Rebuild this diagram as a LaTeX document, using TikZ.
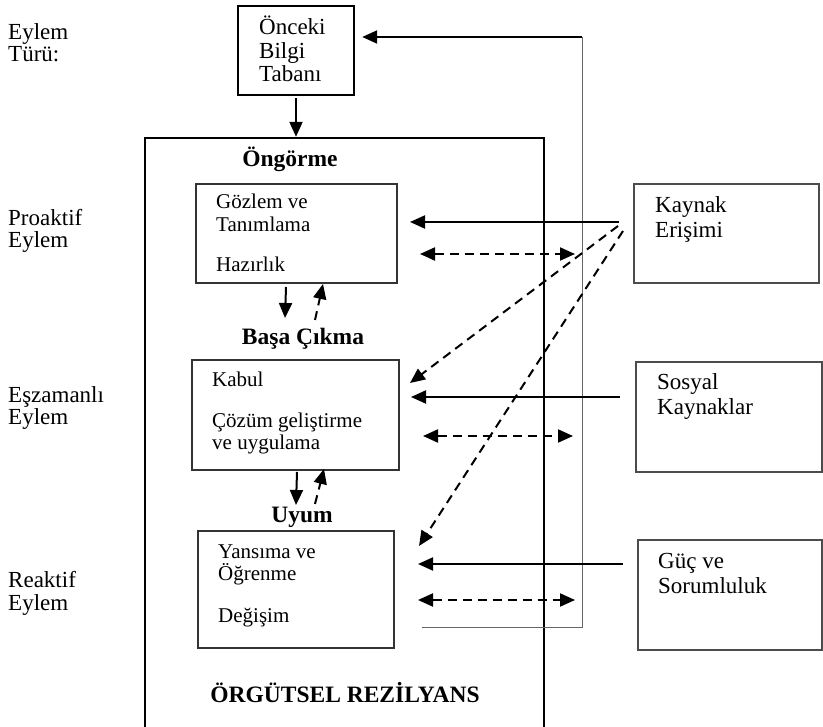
\documentclass[tikz,border=0pt]{standalone}
\usepackage{fontspec}
\setmainfont{Liberation Serif}
\usetikzlibrary{arrows.meta, positioning}

\tikzset{
	tip/.style={-{Triangle[length=15pt,width=13pt]}},
	bigbox/.style={draw=black, line width=2.4pt, inner sep=0pt},
	innerbox/.style={draw=black!80, line width=1.3pt, inner sep=0pt},
	sidebox/.style={draw=black!70, line width=1.3pt, inner sep=0pt},
	lbl/.style={font=\fontsize{23}{22.5}\selectfont, align=left, inner sep=0pt, anchor=base west},
	boxtxt/.style={font=\fontsize{21}{22.5}\selectfont, align=left, inner sep=0pt, anchor=base west},
	sidetxt/.style={font=\fontsize{23}{25}\selectfont, align=left, inner sep=0pt, anchor=base west},
	head/.style={font=\fontsize{23.5}{24}\selectfont\bfseries, inner sep=0pt, anchor=base},
	solidarrow/.style={tip, line width=2pt},
	dasharrow/.style={tip, line width=2pt, dash pattern=on 9pt off 6pt},
	dashboth/.style={{Triangle[length=15pt,width=13pt]}-{Triangle[length=15pt,width=13pt]}, line width=2pt, dash pattern=on 9pt off 6pt},
}

\begin{document}
\begin{tikzpicture}[x=1pt, y=-1pt]
	\useasboundingbox (0,0) rectangle (823,727);
	% Eylem turleri (son satirin tabani)
	\node[lbl] (tur) at (8,62) {Eylem\\Türü:};
	\node[lbl] (proaktif) at (8,248) {Proaktif\\Eylem};
	\node[lbl] (eszamanli) at (8,425) {Eşzamanlı\\Eylem};
	\node[lbl] (reaktif) at (8,610) {Reaktif\\Eylem};
	% kutular
	\node[bigbox, minimum width=116pt, minimum height=89pt] (onceki) at (296,50.5) {};
	\node[sidetxt, font=\fontsize{23}{23.5}\selectfont] (oncekitxt) at (259,82) {Önceki\\Bilgi\\Tabanı};
	\node[bigbox, minimum width=399pt, minimum height=591pt] (rez) at (344.5,433.5) {};
	\node[innerbox, minimum width=201pt, minimum height=99pt] (gozlem) at (296.5,233.5) {};
	\node[innerbox, minimum width=207pt, minimum height=110pt] (kabul) at (295.5,415) {};
	\node[innerbox, minimum width=196pt, minimum height=117pt] (yansima) at (296,589.5) {};
	\node[sidebox, minimum width=185pt, minimum height=99pt] (kaynak) at (726.5,233.5) {};
	\node[sidebox, minimum width=186pt, minimum height=110pt] (sosyal) at (729,417) {};
	\node[sidebox, minimum width=184pt, minimum height=110pt] (guc) at (730,595) {};
	% basliklar
	\node[head] (ongorme) at (290,167) {Öngörme};
	\node[head] (basa) at (303,345) {Başa Çıkma};
	\node[head] (uyum) at (302,523) {Uyum};
	\node[head] (rezilyans) at (345,702) {ÖRGÜTSEL REZİLYANS};
	% kutu metinleri
	\node[boxtxt] (gozlemtxt) at (216,272) {Gözlem ve\\Tanımlama\\[18pt]Hazırlık};
	\node[boxtxt] (kabultxt) at (212,450) {Kabul\\[18.5pt]Çözüm geliştirme\\ve uygulama};
	\node[boxtxt] (yansimatxt) at (218,622) {Yansıma ve\\Öğrenme\\[19pt]Değişim};
	\node[sidetxt] (kaynaktxt) at (655,238) {Kaynak\\Erişimi};
	\node[sidetxt] (sosyaltxt) at (657,415) {Sosyal\\Kaynaklar};
	\node[sidetxt] (guctxt) at (658,594) {Güç ve\\Sorumluluk};
	% geri besleme
	\coordinate (fb1) at (422,627);
	\coordinate (fb2) at (582,627);
	\coordinate (fb3) at (582,37);
	\draw[black!60, line width=1pt] (fb1) -- (fb2) -- (fb3);
	\draw[solidarrow] (fb3) -- ([xshift=7pt]onceki.east |- fb3);
	\draw[solidarrow] (onceki.south |- 0,98) -- (rez.north -| onceki.south);
	% asamalar arasi
	\draw[solidarrow] (286,287) -- (285,318);
	\draw[dasharrow] (315,320) -- (323,284);
	\draw[solidarrow] (297,472) -- (296,505);
	\draw[dasharrow] (315,504) -- (324,469);
	% kaynaklardan
	\coordinate (k1) at (619,222);
	\coordinate (k2) at (618,226);
	\coordinate (k3) at (623,231);
	\coordinate (s1) at (620,397);
	\coordinate (g1) at (623,564);
	\draw[solidarrow] (k1) -- (410,222);
	\draw[dasharrow] (k2) -- (410,383);
	\draw[dasharrow] (k3) -- (419,546);
	\draw[solidarrow] (s1) -- (411,397);
	\draw[solidarrow] (g1) -- (418,564);
	\draw[dashboth] (420,254) -- (575,254);
	\draw[dashboth] (423,436) -- (573,436);
	\draw[dashboth] (418,600) -- (575,600);
\end{tikzpicture}
\end{document}
